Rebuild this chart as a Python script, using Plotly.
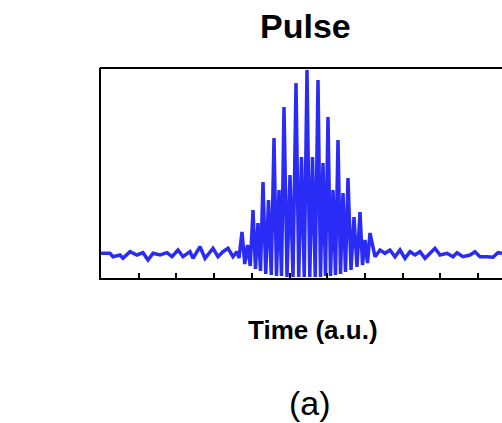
import plotly.graph_objects as go

# time (a.u.) and signal amplitude (a.u.)
left_t = [0, 9, 12, 19, 22, 29, 36, 42, 47, 52, 59, 66, 71, 77, 82, 89, 92, 99, 104, 112, 117, 122, 127, 132, 136, 138]
left_a = [24.7, 24.7, 21.3, 23, 19.7, 26.3, 23, 25.3, 18, 24.7, 23, 25.3, 21.3, 28, 21.3, 26.3, 19.7, 31.3, 19.7, 29.7, 21.3, 26.3, 29.7, 21.3, 26.3, 20]

peak_t = [141, 152, 162, 173, 183, 195, 206, 217, 227, 237, 247, 259, 269]
peak_a = [46, 68, 96, 140, 171, 195, 208, 198, 161, 138, 100, 66, 45]
# per gap between successive peaks: first trough, secondary maximum, second trough
trough1_a = [14, 9, 4, 2, 1, 1, 1, 1, 2, 4, 8, 13]
second_a = [33, 55, 78, 88, 103, 121, 121, 115, 88, 85, 61, 38]
trough2_a = [12, 7, 3, 2, 1, 1, 1, 2, 3, 6, 11, 15]

right_t = [274, 279, 284, 289, 294, 299, 304, 309, 314, 319, 324, 329, 334, 339, 346, 352, 356, 362, 369, 374, 379, 386, 392, 397, 401]
right_a = [21.3, 28, 24.7, 28, 21.3, 28, 19.7, 26.3, 23, 26.3, 19.7, 24.7, 29.7, 23, 24.7, 21.3, 25.3, 21.3, 23, 26.3, 21.3, 21.3, 20.7, 25.3, 24.7]

tick_vals = [37.7, 75.4, 113.1, 150.8, 188.5, 226.2, 263.9, 301.6, 339.3, 377.0]

# assemble central fringes
mid_t, mid_a = [], []
for i in range(len(peak_t)):
    mid_t.append(peak_t[i]); mid_a.append(peak_a[i])
    if i < len(peak_t) - 1:
        gap = peak_t[i + 1] - peak_t[i]
        mid_t += [peak_t[i] + gap * 0.25, peak_t[i] + gap * 0.5, peak_t[i] + gap * 0.75]
        mid_a += [trough1_a[i], second_a[i], trough2_a[i]]

t = left_t + mid_t + right_t
a = left_a + mid_a + right_a

fig = go.Figure()
fig.add_trace(go.Scatter(x=t, y=a, mode="lines",
                         line=dict(color="#2a2cf5", width=3.5), showlegend=False,
                         hoverinfo="skip"))

fig.update_layout(
    width=502, height=423,
    margin=dict(l=101, r=0, t=68, b=145),
    paper_bgcolor="white", plot_bgcolor="white",
    font=dict(family="Liberation Sans, Arial, sans-serif", color="black"),
    xaxis=dict(range=[0, 401], showgrid=False, zeroline=False,
               showline=True, linecolor="black", linewidth=2, mirror=False,
               ticks="inside", ticklen=5, tickwidth=2, tickcolor="black",
               tickvals=tick_vals, showticklabels=False),
    yaxis=dict(range=[0, 210], showgrid=False, zeroline=False,
               showline=True, linecolor="black", linewidth=2, mirror=False,
               ticks="", showticklabels=False),
    shapes=[dict(type="line", xref="paper", yref="paper", x0=-0.003, x1=1.0, y0=1, y1=1,
                 line=dict(color="black", width=2))],
    annotations=[
        dict(text="<b>Pulse</b>", x=(305 - 101) / 401, y=1.0 + (68 - 25.5) / 210, xref="paper", yref="paper",
             showarrow=False, font=dict(size=34, color="black"), xanchor="center", yanchor="middle"),
        dict(text="<b>Time (a.u.)</b>", x=(313 - 101) / 401, y=(278 - 330) / 210, xref="paper", yref="paper",
             showarrow=False, font=dict(size=26, color="black"), xanchor="center", yanchor="middle"),
        dict(text="(a)", x=(310 - 101) / 401, y=(278 - 403) / 210, xref="paper", yref="paper",
             showarrow=False, font=dict(size=34, color="black"), xanchor="center", yanchor="middle"),
    ],
)

fig.write_html("out.html")
